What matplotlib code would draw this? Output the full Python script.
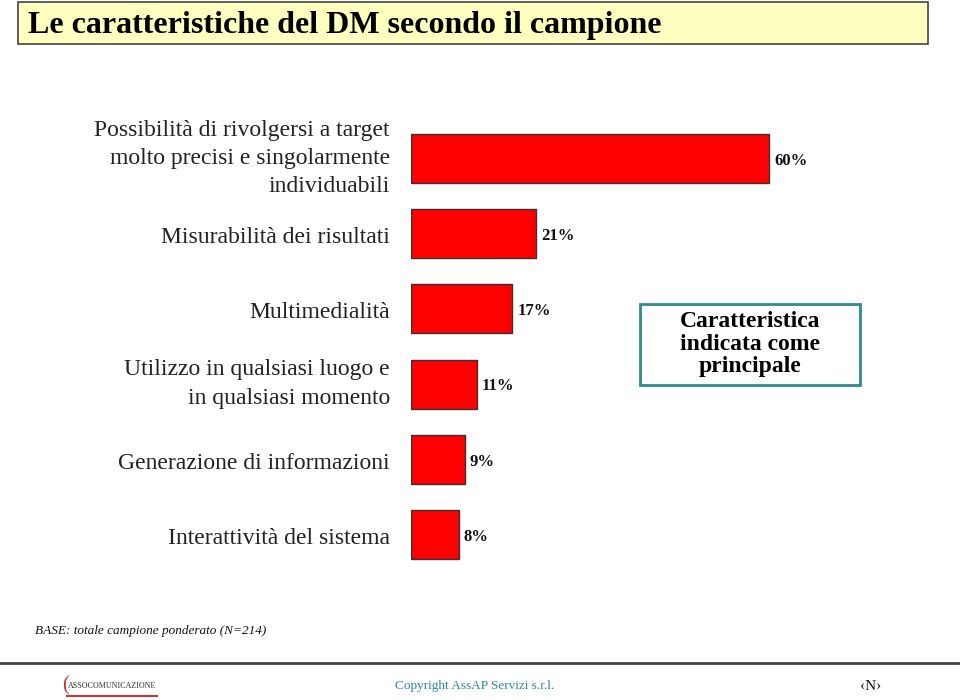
import matplotlib.pyplot as plt
import matplotlib.transforms as mtransforms
from matplotlib.patches import Rectangle
from matplotlib.lines import Line2D

plt.rcParams['font.family'] = ['Liberation Serif', 'DejaVu Serif']

# --- data
categories = [
    'Possibilità di rivolgersi a target\nmolto precisi e singolarmente\nindividuabili',
    'Misurabilità dei risultati',
    'Multimedialità',
    'Utilizzo in qualsiasi luogo e\nin qualsiasi momento',
    'Generazione di informazioni',
    'Interattività del sistema',
]
values = [60, 21, 17, 11, 9, 8]
value_labels = ['60%', '21%', '17%', '11%', '9%', '8%']

W, H = 960, 700
fig = plt.figure(figsize=(W / 100, H / 100), dpi=100)

# title box
fig.patches.append(Rectangle((18 / W, 1 - 44 / H), 910 / W, 42 / H, transform=fig.transFigure,
                             facecolor='#FFFFC0', edgecolor='#444444', lw=1.2))
fig.text(28 / W, 1 - 25 / H, 'Le caratteristiche del DM secondo il campione',
         fontsize=23, fontweight='bold', va='center', ha='left', color='black')

# bar chart area: x from 411 px, y from 121 to 572 px
ax = fig.add_axes([411 / W, 1 - 572 / H, 489 / W, 451 / H])
pos = list(range(len(values)))
ax.barh(pos, values, height=0.65, color='#FF0000', edgecolor='#333333', lw=1)
ax.set_xlim(0, 489 / 5.97)
ax.set_ylim(len(values) - 0.5, -0.5)
ax.set_xticks([])
ax.set_yticks([])
for s in ax.spines.values():
    s.set_visible(False)

# category labels, right aligned just left of the bars
trans = mtransforms.blended_transform_factory(ax.transAxes, ax.transData)
for p, cat in zip(pos, categories):
    dy = 0 if '\n' in cat else -4
    t = mtransforms.offset_copy(trans, fig=fig, x=-21, y=dy, units='dots')
    ax.text(0, p, cat, transform=t, fontsize=17, color='#222222', linespacing=1.45,
            ha='right', va='center', multialignment='right')

for p, v, lab in zip(pos, values, value_labels):
    ax.text(v + 0.8, p + 0.03, lab, fontsize=12, fontweight='bold', va='center', ha='left',
            color='#111111')

# legend-like box
fig.patches.append(Rectangle((640 / W, 1 - 385 / H), 220 / W, 81 / H, transform=fig.transFigure,
                             facecolor='white', edgecolor='#2E8B8B', lw=2))
fig.text(750 / W, 1 - 344 / H, 'Caratteristica\nindicata come\nprincipale', fontsize=17,
         fontweight='bold', ha='center', va='center', linespacing=1.1)

# footer
fig.text(35 / W, 1 - 631 / H, 'BASE: totale campione ponderato (N=214)', fontsize=9.5,
         style='italic', ha='left', va='center', color='#111111')
fig.lines.append(Line2D([0, 1], [1 - 663 / H, 1 - 663 / H], transform=fig.transFigure,
                        color='#444444', lw=2))
fig.text(395 / W, 1 - 686 / H, 'Copyright AssAP Servizi s.r.l.', fontsize=9.5,
         ha='left', va='center', color='#2E8B8B')
fig.text(871 / W, 1 - 687 / H, '‹N›', fontsize=11, ha='center', va='center', color='#111111')

# logo
fig.text(112 / W, 1 - 686 / H, 'ASSOCOMUNICAZIONE', fontsize=5.8, ha='center', va='center',
         color='#333333')
fig.text(66 / W, 1 - 686 / H, '(', fontsize=15, ha='center', va='center', color='#CC3333')
fig.lines.append(Line2D([67 / W, 157 / W], [1 - 696 / H, 1 - 696 / H], transform=fig.transFigure,
                        color='#CC3333', lw=1.5))

fig.savefig('out.png', dpi=100)
